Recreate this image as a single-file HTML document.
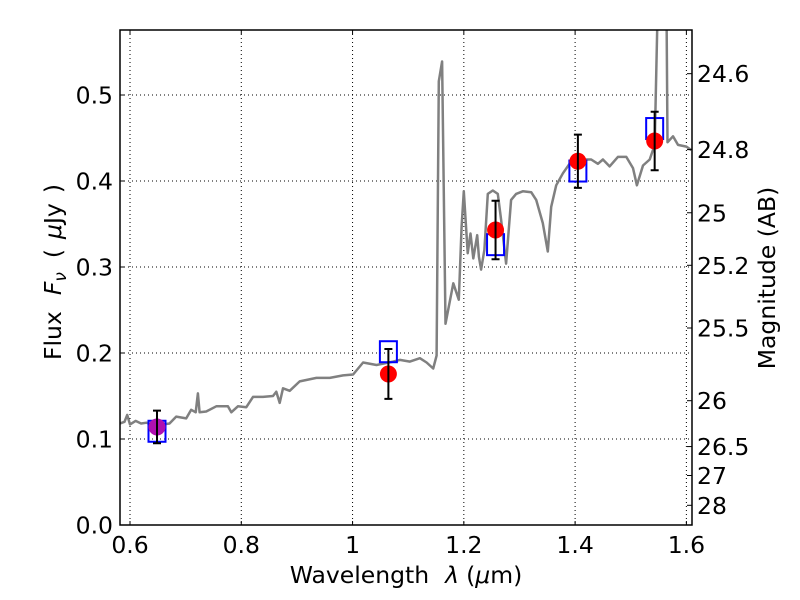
<!DOCTYPE html>
<html><head><meta charset="utf-8">
<style>
html,body{margin:0;padding:0;background:#fff;}
svg{display:block;font-family:"DejaVu Sans","Liberation Sans",sans-serif;}
</style></head>
<body>
<svg id="chart" width="800" height="600" viewBox="0 0 800 600" xmlns="http://www.w3.org/2000/svg">
<rect width="800" height="600" fill="#fff"/>
<defs><clipPath id="plotclip"><rect x="120" y="30" width="572" height="495"/></clipPath></defs>
<g id="grid"></g>
<g id="series" clip-path="url(#plotclip)"></g>
<g id="axes"></g>
<text x="406" y="583" font-size="23.5" text-anchor="middle">Wavelength<tspan dx="16" font-style="italic">λ</tspan><tspan dx="7">(</tspan><tspan font-style="italic">μ</tspan>m)</text>
<text transform="translate(61,272) rotate(-90)" font-size="23.5" text-anchor="middle">Flux<tspan dx="16" font-style="italic">F</tspan><tspan font-style="italic" font-size="17" dy="5">ν</tspan><tspan dy="-5" dx="14">(</tspan><tspan dx="10" font-style="italic">μ</tspan>Jy<tspan dx="10">)</tspan></text>
<text transform="translate(775,278) rotate(-90)" font-size="23.5" text-anchor="middle">Magnitude (AB)</text>
</svg>
<script>
const specWave = [0.582,0.59,0.595,0.60,0.61,0.62,0.63,0.64,0.65,0.66,0.671,0.683,0.701,0.710,0.718,0.722,0.725,0.737,0.755,0.776,0.782,0.794,0.809,0.821,0.839,0.857,0.863,0.869,0.875,0.887,0.905,0.935,0.959,0.983,1.001,1.019,1.043,1.073,1.085,1.103,1.121,1.133,1.145,1.151,1.155,1.161,1.167,1.173,1.181,1.191,1.196,1.200,1.207,1.212,1.217,1.224,1.227,1.231,1.237,1.243,1.252,1.261,1.267,1.276,1.285,1.294,1.306,1.321,1.330,1.342,1.351,1.357,1.366,1.378,1.390,1.408,1.429,1.441,1.450,1.462,1.477,1.492,1.504,1.511,1.522,1.534,1.543,1.549,1.555,1.564,1.566,1.576,1.585,1.600,1.609];
const specFlux = [0.118,0.120,0.128,0.117,0.121,0.118,0.119,0.116,0.116,0.117,0.118,0.126,0.124,0.134,0.131,0.153,0.131,0.132,0.138,0.138,0.131,0.138,0.137,0.149,0.149,0.150,0.155,0.142,0.159,0.156,0.167,0.171,0.171,0.174,0.175,0.189,0.186,0.190,0.192,0.190,0.194,0.189,0.182,0.197,0.516,0.539,0.234,0.254,0.281,0.262,0.347,0.388,0.316,0.339,0.310,0.337,0.312,0.297,0.320,0.385,0.389,0.385,0.355,0.304,0.378,0.385,0.388,0.387,0.378,0.351,0.318,0.370,0.395,0.409,0.420,0.425,0.425,0.420,0.425,0.417,0.428,0.428,0.415,0.395,0.418,0.425,0.442,0.62,0.72,0.62,0.445,0.452,0.442,0.440,0.436];
const obsWave = [0.6485,1.0644,1.257,1.405,1.543];
const obsFlux = [0.114,0.1756,0.343,0.423,0.4465];
const obsErr = [0.019,0.029,0.034,0.031,0.034];
const modelFlux = [0.109,0.2015,0.326,0.4116,0.461];
const xTicks = [0.6,0.8,1.0,1.2,1.4,1.6];
const xTickLabels = ["0.6","0.8","1","1.2","1.4","1.6"];
const yTicks = [0,0.1,0.2,0.3,0.4,0.5];
const yTickLabels = ["0.0","0.1","0.2","0.3","0.4","0.5"];
const magTicks = [24.6,24.8,25,25.2,25.5,26,26.5,27,28];
const magTickLabels = ["24.6","24.8","25","25.2","25.5","26","26.5","27","28"];

const NS="http://www.w3.org/2000/svg";
const L=120,R=692,T=30,B=525;
const xmin=0.582,xmax=1.6101,ymin=0,ymax=0.5756;
const xs=v=>L+(v-xmin)/(xmax-xmin)*(R-L);
const ys=v=>B-(v-ymin)/(ymax-ymin)*(B-T);
function mk(tag,attrs,parent){const e=document.createElementNS(NS,tag);for(const k in attrs)e.setAttribute(k,attrs[k]);parent.appendChild(e);return e;}
const grid=document.getElementById('grid'),series=document.getElementById('series'),axes=document.getElementById('axes');

xTicks.forEach((t,i)=>{
  const x=xs(t);
  const g=mk('line',{x1:x,x2:x,y1:T,y2:B,stroke:'#000','stroke-width':1,'stroke-dasharray':'1,3'},grid);
  
  
  mk('line',{x1:x,x2:x,y1:B,y2:B-4,stroke:'#000','stroke-width':1},axes);
  mk('line',{x1:x,x2:x,y1:T,y2:T+4,stroke:'#000','stroke-width':1},axes);
  const lb=mk('text',{x:x,y:B+28,'font-size':23.5,'text-anchor':'middle'},axes);
  lb.textContent=xTickLabels[i];
  
  
});
yTicks.forEach((t,i)=>{
  const y=ys(t);
  const g=mk('line',{x1:L,x2:R,y1:y,y2:y,stroke:'#000','stroke-width':1,'stroke-dasharray':'1,3'},grid);
  
  
  mk('line',{x1:L,x2:L+4,y1:y,y2:y,stroke:'#000','stroke-width':1},axes);
  const lb=mk('text',{x:L-7,y:y+8.5,'font-size':23.5,'text-anchor':'end'},axes);
  lb.textContent=yTickLabels[i];
  
  
});
magTicks.forEach((m,i)=>{
  const y=ys(Math.pow(10,(23.9-m)/2.5));
  mk('line',{x1:R,x2:R-5,y1:y,y2:y,stroke:'#000','stroke-width':1},axes);
  const lb=mk('text',{x:R+5,y:y+8.5,'font-size':23.5,'text-anchor':'start'},axes);
  lb.textContent=magTickLabels[i];
  
  
});

const pts=specWave.map((w,i)=>xs(w).toFixed(1)+','+ys(specFlux[i]).toFixed(1)).join(' ');
const sp=mk('polyline',{points:pts,fill:'none',stroke:'#808080','stroke-width':2.5,'stroke-linejoin':'round'},series);



obsWave.forEach((w,i)=>{
  const x=xs(w);
  const sq=mk('rect',{x:x-8.5,y:ys(modelFlux[i])-10.5,width:17,height:21,fill:'none',stroke:'#0000ff','stroke-width':2},series);
  
  
});
obsWave.forEach((w,i)=>{
  const x=xs(w),y=ys(obsFlux[i]);
  const c=mk('circle',{cx:x,cy:y,r:8.5,fill:i===0?'#b010b0':'#ff0000'},series);
  
  
  const y1=ys(obsFlux[i]+obsErr[i]),y2=ys(obsFlux[i]-obsErr[i]);
  const eb=mk('path',{d:`M${x},${y1}V${y2}M${x-4},${y1}H${x+4}M${x-4},${y2}H${x+4}`,stroke:'#000','stroke-width':2,fill:'none'},series);
  
  
});

const fr=mk('rect',{x:L,y:T,width:R-L,height:B-T,fill:'none',stroke:'#000','stroke-width':1.5},axes);


</script>
</body></html>
